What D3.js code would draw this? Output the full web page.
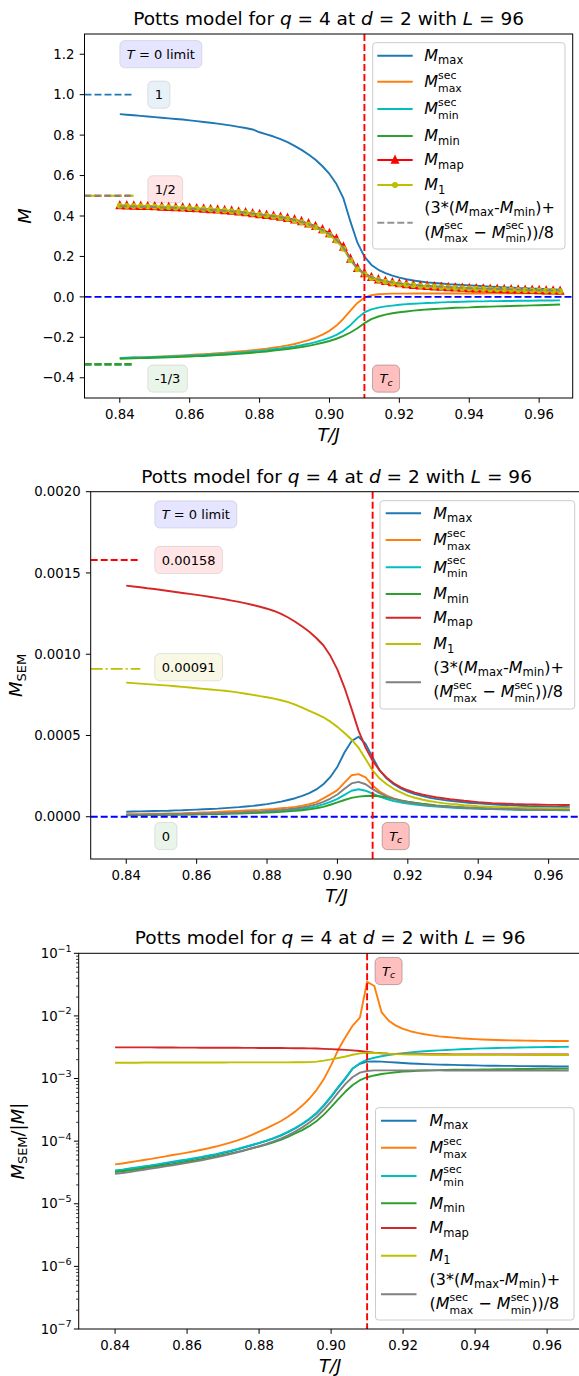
<!DOCTYPE html>
<html>
<head>
<meta charset="utf-8">
<script src="https://cdn.jsdelivr.net/npm/d3@7"></script>
<style>
  body { margin: 0; background: #fff; }
  svg text { font-family: 'DejaVu Sans', sans-serif; white-space: pre; fill: #000; }
</style>
</head>
<body>
<svg id="fig" width="579" height="1376"></svg>
<script>
/* Potts model q=4, d=2, L=96 — three stacked panels (M, M_SEM, M_SEM/|M|) */

// ---- temperatures (T/J) ----
const TEMPS = [
  0.840, 0.842, 0.844, 0.846, 0.848, 0.850, 0.852, 0.854, 0.856, 0.858,
  0.860, 0.862, 0.864, 0.866, 0.868, 0.870, 0.872, 0.874, 0.876, 0.878,
  0.880, 0.882, 0.884, 0.886, 0.888, 0.890, 0.892, 0.894, 0.896, 0.898,
  0.900, 0.902, 0.904, 0.906, 0.908, 0.910, 0.912, 0.914, 0.916, 0.918,
  0.920, 0.922, 0.924, 0.926, 0.928, 0.930, 0.932, 0.934, 0.936, 0.938,
  0.940, 0.942, 0.944, 0.946, 0.948, 0.950, 0.952, 0.954, 0.956, 0.958,
  0.960, 0.962, 0.964, 0.966];

// ---- panel 1: M ----
const M_MAX = [
  0.904, 0.901, 0.898, 0.895, 0.892, 0.889, 0.886, 0.883, 0.880, 0.877,
  0.873, 0.869, 0.865, 0.861, 0.857, 0.852, 0.847, 0.841, 0.835, 0.828,
  0.814, 0.804, 0.793, 0.780, 0.765, 0.747, 0.727, 0.704, 0.678, 0.646,
  0.608, 0.558, 0.487, 0.372, 0.268, 0.199, 0.158, 0.134, 0.118, 0.105,
  0.095, 0.087, 0.081, 0.076, 0.072, 0.069, 0.066, 0.063, 0.061, 0.059,
  0.057, 0.055, 0.053, 0.051, 0.049, 0.047, 0.046, 0.044, 0.043, 0.041,
  0.040, 0.038, 0.037, 0.036];
const M_SECMAX = [
  -0.303, -0.302, -0.300, -0.299, -0.298, -0.296, -0.295, -0.293, -0.291, -0.289,
  -0.287, -0.285, -0.283, -0.281, -0.278, -0.276, -0.273, -0.270, -0.267, -0.264,
  -0.260, -0.256, -0.251, -0.246, -0.240, -0.233, -0.224, -0.214, -0.202, -0.187,
  -0.168, -0.142, -0.108, -0.068, -0.030, -0.004, 0.008, 0.013, 0.015, 0.016,
  0.016, 0.016, 0.017, 0.017, 0.017, 0.017, 0.017, 0.017, 0.017, 0.017,
  0.017, 0.017, 0.017, 0.018, 0.018, 0.018, 0.018, 0.018, 0.018, 0.018,
  0.018, 0.018, 0.018, 0.018];
const M_SECMIN = [
  -0.302, -0.301, -0.300, -0.299, -0.298, -0.297, -0.296, -0.295, -0.293, -0.292,
  -0.290, -0.289, -0.287, -0.285, -0.283, -0.281, -0.279, -0.276, -0.273, -0.270,
  -0.267, -0.263, -0.259, -0.255, -0.250, -0.245, -0.239, -0.232, -0.224, -0.214,
  -0.203, -0.188, -0.168, -0.140, -0.105, -0.077, -0.062, -0.053, -0.047, -0.043,
  -0.039, -0.036, -0.034, -0.032, -0.030, -0.029, -0.027, -0.026, -0.025, -0.024,
  -0.023, -0.022, -0.022, -0.021, -0.021, -0.020, -0.020, -0.019, -0.019, -0.019,
  -0.018, -0.018, -0.018, -0.017];
const M_MIN = [
  -0.306, -0.305, -0.304, -0.303, -0.302, -0.301, -0.300, -0.299, -0.298, -0.296,
  -0.295, -0.293, -0.292, -0.290, -0.288, -0.286, -0.284, -0.282, -0.279, -0.276,
  -0.273, -0.270, -0.266, -0.262, -0.258, -0.253, -0.248, -0.242, -0.235, -0.227,
  -0.218, -0.207, -0.193, -0.176, -0.155, -0.130, -0.110, -0.097, -0.088, -0.081,
  -0.076, -0.072, -0.068, -0.065, -0.062, -0.060, -0.058, -0.056, -0.054, -0.053,
  -0.052, -0.050, -0.049, -0.048, -0.047, -0.046, -0.045, -0.044, -0.043, -0.042,
  -0.041, -0.040, -0.039, -0.038];
const M_MAP = [
  0.452, 0.451, 0.450, 0.449, 0.448, 0.447, 0.445, 0.444, 0.442, 0.441,
  0.439, 0.437, 0.435, 0.433, 0.431, 0.428, 0.425, 0.421, 0.417, 0.412,
  0.408, 0.404, 0.400, 0.395, 0.389, 0.382, 0.373, 0.362, 0.349, 0.333,
  0.314, 0.287, 0.247, 0.188, 0.142, 0.116, 0.097, 0.085, 0.077, 0.071,
  0.066, 0.062, 0.058, 0.055, 0.053, 0.051, 0.049, 0.047, 0.045, 0.044,
  0.042, 0.041, 0.040, 0.039, 0.038, 0.037, 0.036, 0.035, 0.034, 0.033,
  0.032, 0.031, 0.030, 0.029];
const M_ONE = [
  0.451, 0.450, 0.449, 0.448, 0.447, 0.446, 0.444, 0.443, 0.441, 0.440,
  0.438, 0.436, 0.434, 0.432, 0.429, 0.427, 0.424, 0.420, 0.416, 0.411,
  0.406, 0.402, 0.398, 0.392, 0.386, 0.378, 0.369, 0.358, 0.344, 0.327,
  0.306, 0.278, 0.238, 0.181, 0.137, 0.112, 0.094, 0.083, 0.075, 0.069,
  0.064, 0.060, 0.057, 0.054, 0.052, 0.050, 0.048, 0.046, 0.044, 0.043,
  0.041, 0.040, 0.039, 0.038, 0.037, 0.036, 0.035, 0.034, 0.033, 0.032,
  0.031, 0.030, 0.029, 0.028];
const M_COMB = [
  0.449, 0.448, 0.447, 0.446, 0.445, 0.444, 0.442, 0.441, 0.440, 0.438,
  0.436, 0.434, 0.432, 0.430, 0.428, 0.425, 0.423, 0.419, 0.416, 0.412,
  0.408, 0.403, 0.399, 0.394, 0.388, 0.380, 0.371, 0.360, 0.347, 0.331,
  0.311, 0.283, 0.243, 0.186, 0.140, 0.116, 0.097, 0.086, 0.078, 0.072,
  0.067, 0.063, 0.059, 0.056, 0.054, 0.052, 0.050, 0.048, 0.046, 0.045,
  0.043, 0.042, 0.041, 0.040, 0.039, 0.038, 0.037, 0.036, 0.035, 0.034,
  0.033, 0.032, 0.031, 0.031];

// ---- panel 2: M_SEM ----
const SEM_MAX = [
  31e-6, 32e-6, 33e-6, 34e-6, 35e-6, 36e-6, 37e-6, 39e-6, 40e-6, 42e-6,
  44e-6, 46e-6, 48e-6, 50e-6, 53e-6, 56e-6, 59e-6, 63e-6, 67e-6, 72e-6,
  78e-6, 85e-6, 93e-6, 103e-6, 114e-6, 128e-6, 145e-6, 168e-6, 200e-6, 245e-6,
  308e-6, 395e-6, 465e-6, 492e-6, 448e-6, 365e-6, 285e-6, 235e-6, 200e-6, 175e-6,
  155e-6, 140e-6, 128e-6, 118e-6, 110e-6, 104e-6, 98e-6, 93e-6, 89e-6, 85e-6,
  82e-6, 79e-6, 76e-6, 74e-6, 72e-6, 70e-6, 68e-6, 66e-6, 65e-6, 63e-6,
  62e-6, 61e-6, 60e-6, 59e-6];
const SEM_SECMAX = [
  15e-6, 15.5e-6, 16e-6, 17e-6, 18e-6, 19e-6, 20e-6, 21e-6, 22e-6, 24e-6,
  25e-6, 27e-6, 28e-6, 30e-6, 32e-6, 34e-6, 36e-6, 38e-6, 40e-6, 42e-6,
  45e-6, 48e-6, 52e-6, 56e-6, 61e-6, 68e-6, 77e-6, 90e-6, 113e-6, 138e-6,
  164e-6, 210e-6, 255e-6, 262e-6, 242e-6, 192e-6, 155e-6, 130e-6, 113e-6, 100e-6,
  90e-6, 83e-6, 77e-6, 72e-6, 68e-6, 65e-6, 62e-6, 59e-6, 57e-6, 55e-6,
  53e-6, 51e-6, 50e-6, 49e-6, 48e-6, 47e-6, 46e-6, 45e-6, 44e-6, 44e-6,
  43e-6, 43e-6, 42e-6, 42e-6];
const SEM_SECMIN = [
  10e-6, 10.5e-6, 11e-6, 11.5e-6, 12e-6, 12.5e-6, 13e-6, 14e-6, 14.5e-6, 15e-6,
  16e-6, 17e-6, 18e-6, 19e-6, 20e-6, 21.5e-6, 23e-6, 24.5e-6, 26e-6, 28e-6,
  30e-6, 33e-6, 36e-6, 39e-6, 43e-6, 48e-6, 55e-6, 64e-6, 76e-6, 92e-6,
  110e-6, 135e-6, 160e-6, 169e-6, 160e-6, 142e-6, 124e-6, 109e-6, 97e-6, 88e-6,
  81e-6, 75e-6, 70e-6, 66e-6, 62e-6, 59e-6, 56e-6, 54e-6, 52e-6, 50e-6,
  49e-6, 48e-6, 47e-6, 46e-6, 45e-6, 44e-6, 43e-6, 43e-6, 42e-6, 42e-6,
  41e-6, 41e-6, 40e-6, 40e-6];
const SEM_MIN = [
  9e-6, 9.5e-6, 10e-6, 10.5e-6, 11e-6, 11.5e-6, 12e-6, 12.5e-6, 13e-6, 14e-6,
  14.5e-6, 15e-6, 16e-6, 17e-6, 18e-6, 19e-6, 20e-6, 21.5e-6, 23e-6, 24.5e-6,
  26e-6, 28e-6, 30e-6, 33e-6, 36e-6, 40e-6, 45e-6, 52e-6, 61e-6, 74e-6,
  88e-6, 103e-6, 116e-6, 124e-6, 128e-6, 129e-6, 126e-6, 119e-6, 110e-6, 101e-6,
  93e-6, 86e-6, 80e-6, 75e-6, 70e-6, 66e-6, 63e-6, 60e-6, 57e-6, 55e-6,
  53e-6, 51e-6, 50e-6, 48e-6, 47e-6, 46e-6, 45e-6, 44e-6, 44e-6, 43e-6,
  42e-6, 42e-6, 41e-6, 41e-6];
const SEM_MAP = [
  1422e-6, 1417e-6, 1412e-6, 1406e-6, 1401e-6, 1395e-6, 1389e-6, 1383e-6, 1377e-6, 1371e-6,
  1365e-6, 1359e-6, 1352e-6, 1345e-6, 1338e-6, 1330e-6, 1322e-6, 1313e-6, 1303e-6, 1292e-6,
  1280e-6, 1266e-6, 1248e-6, 1226e-6, 1200e-6, 1170e-6, 1138e-6, 1100e-6, 1055e-6, 990e-6,
  905e-6, 795e-6, 665e-6, 530e-6, 425e-6, 345e-6, 285e-6, 240e-6, 206e-6, 181e-6,
  163e-6, 148e-6, 137e-6, 128e-6, 120e-6, 114e-6, 108e-6, 103e-6, 98e-6, 94e-6,
  90e-6, 87e-6, 84e-6, 82e-6, 80e-6, 78e-6, 77e-6, 76e-6, 75e-6, 74e-6,
  73e-6, 73e-6, 72e-6, 72e-6];
const SEM_ONE = [
  825e-6, 822e-6, 819e-6, 816e-6, 813e-6, 810e-6, 807e-6, 803e-6, 799e-6, 795e-6,
  791e-6, 787e-6, 783e-6, 779e-6, 775e-6, 770e-6, 764e-6, 757e-6, 750e-6, 742e-6,
  735e-6, 727e-6, 717e-6, 705e-6, 690e-6, 672e-6, 652e-6, 633e-6, 612e-6, 585e-6,
  553e-6, 515e-6, 475e-6, 425e-6, 355e-6, 285e-6, 235e-6, 200e-6, 172e-6, 150e-6,
  130e-6, 117e-6, 106e-6, 97e-6, 90e-6, 84e-6, 79e-6, 75e-6, 71e-6, 68e-6,
  65e-6, 63e-6, 61e-6, 59e-6, 58e-6, 57e-6, 56e-6, 55e-6, 54e-6, 53e-6,
  53e-6, 52e-6, 52e-6, 51e-6];
const SEM_COMB = [
  12e-6, 12.5e-6, 13e-6, 13.5e-6, 14e-6, 15e-6, 15.5e-6, 16e-6, 17e-6, 18e-6,
  19e-6, 20e-6, 21e-6, 22e-6, 24e-6, 25e-6, 27e-6, 29e-6, 31e-6, 33e-6,
  36e-6, 39e-6, 42e-6, 46e-6, 51e-6, 57e-6, 65e-6, 76e-6, 92e-6, 112e-6,
  137e-6, 172e-6, 205e-6, 215e-6, 200e-6, 170e-6, 145e-6, 125e-6, 110e-6, 98e-6,
  89e-6, 82e-6, 76e-6, 71e-6, 67e-6, 64e-6, 61e-6, 58e-6, 56e-6, 54e-6,
  52e-6, 51e-6, 49e-6, 48e-6, 47e-6, 46e-6, 45e-6, 44e-6, 44e-6, 43e-6,
  42e-6, 42e-6, 41e-6, 41e-6];

// ---- panel 3: M_SEM / |M| ----
const REL_MAX = [
  3.33e-5, 3.45e-5, 3.6e-5, 3.75e-5, 3.9e-5, 4.05e-5, 4.2e-5, 4.4e-5, 4.6e-5, 4.8e-5,
  5.0e-5, 5.25e-5, 5.5e-5, 5.8e-5, 6.1e-5, 6.5e-5, 6.9e-5, 7.4e-5, 8.0e-5, 8.6e-5,
  9.3e-5, 1.01e-4, 1.11e-4, 1.23e-4, 1.39e-4, 1.6e-4, 1.88e-4, 2.25e-4, 2.8e-4, 3.7e-4,
  5.1e-4, 7.2e-4, 1.0e-3, 1.45e-3, 1.72e-3, 1.86e-3, 1.88e-3, 1.86e-3, 1.83e-3, 1.80e-3,
  1.77e-3, 1.74e-3, 1.72e-3, 1.70e-3, 1.68e-3, 1.67e-3, 1.66e-3, 1.65e-3, 1.64e-3, 1.63e-3,
  1.62e-3, 1.61e-3, 1.60e-3, 1.60e-3, 1.59e-3, 1.59e-3, 1.58e-3, 1.58e-3, 1.57e-3, 1.57e-3,
  1.57e-3, 1.56e-3, 1.56e-3, 1.56e-3];
const REL_SECMAX = [
  4.26e-5, 4.4e-5, 4.6e-5, 4.8e-5, 5.0e-5, 5.2e-5, 5.45e-5, 5.7e-5, 6.0e-5, 6.25e-5,
  6.55e-5, 6.9e-5, 7.3e-5, 7.7e-5, 8.2e-5, 8.8e-5, 9.5e-5, 1.03e-4, 1.13e-4, 1.26e-4,
  1.42e-4, 1.6e-4, 1.82e-4, 2.08e-4, 2.45e-4, 2.96e-4, 3.7e-4, 4.8e-4, 6.6e-4, 9.8e-4,
  1.64e-3, 2.9e-3, 4.6e-3, 7.0e-3, 9.4e-3, 3.52e-2, 3.0e-2, 1.15e-2, 8.4e-3, 7.0e-3,
  6.2e-3, 5.7e-3, 5.35e-3, 5.1e-3, 4.9e-3, 4.72e-3, 4.6e-3, 4.5e-3, 4.4e-3, 4.33e-3,
  4.26e-3, 4.2e-3, 4.16e-3, 4.12e-3, 4.09e-3, 4.07e-3, 4.05e-3, 4.03e-3, 4.02e-3, 4.0e-3,
  3.99e-3, 3.98e-3, 3.98e-3, 3.97e-3];
const REL_SECMIN = [
  3.4e-5, 3.5e-5, 3.65e-5, 3.8e-5, 3.95e-5, 4.1e-5, 4.3e-5, 4.5e-5, 4.7e-5, 4.9e-5,
  5.1e-5, 5.35e-5, 5.6e-5, 5.9e-5, 6.2e-5, 6.6e-5, 7.0e-5, 7.5e-5, 8.1e-5, 8.7e-5,
  9.4e-5, 1.02e-4, 1.12e-4, 1.25e-4, 1.41e-4, 1.62e-4, 1.9e-4, 2.28e-4, 2.85e-4, 3.75e-4,
  5.2e-4, 7.4e-4, 1.03e-3, 1.45e-3, 1.76e-3, 2.0e-3, 2.15e-3, 2.27e-3, 2.37e-3, 2.46e-3,
  2.55e-3, 2.62e-3, 2.68e-3, 2.73e-3, 2.78e-3, 2.82e-3, 2.86e-3, 2.90e-3, 2.94e-3, 2.97e-3,
  3.0e-3, 3.03e-3, 3.05e-3, 3.07e-3, 3.09e-3, 3.11e-3, 3.13e-3, 3.14e-3, 3.16e-3, 3.17e-3,
  3.18e-3, 3.19e-3, 3.2e-3, 3.21e-3];
const REL_MIN = [
  3.2e-5, 3.3e-5, 3.4e-5, 3.55e-5, 3.7e-5, 3.85e-5, 4.0e-5, 4.15e-5, 4.3e-5, 4.5e-5,
  4.7e-5, 4.9e-5, 5.15e-5, 5.4e-5, 5.7e-5, 6.0e-5, 6.35e-5, 6.75e-5, 7.2e-5, 7.7e-5,
  8.2e-5, 8.8e-5, 9.6e-5, 1.05e-4, 1.17e-4, 1.33e-4, 1.5e-4, 1.75e-4, 2.1e-4, 2.65e-4,
  3.5e-4, 4.7e-4, 6.2e-4, 7.9e-4, 9.4e-4, 1.05e-3, 1.12e-3, 1.18e-3, 1.22e-3, 1.26e-3,
  1.29e-3, 1.31e-3, 1.33e-3, 1.34e-3, 1.35e-3, 1.36e-3, 1.37e-3, 1.38e-3, 1.38e-3, 1.39e-3,
  1.39e-3, 1.40e-3, 1.40e-3, 1.41e-3, 1.41e-3, 1.41e-3, 1.42e-3, 1.42e-3, 1.42e-3, 1.43e-3,
  1.43e-3, 1.43e-3, 1.44e-3, 1.44e-3];
const REL_MAP = [
  3.15e-3, 3.15e-3, 3.15e-3, 3.14e-3, 3.14e-3, 3.14e-3, 3.13e-3, 3.13e-3, 3.13e-3, 3.12e-3,
  3.12e-3, 3.12e-3, 3.11e-3, 3.11e-3, 3.11e-3, 3.10e-3, 3.10e-3, 3.10e-3, 3.09e-3, 3.09e-3,
  3.08e-3, 3.08e-3, 3.07e-3, 3.07e-3, 3.06e-3, 3.05e-3, 3.04e-3, 3.03e-3, 3.01e-3, 2.98e-3,
  2.95e-3, 2.91e-3, 2.87e-3, 2.82e-3, 2.75e-3, 2.67e-3, 2.59e-3, 2.53e-3, 2.49e-3, 2.47e-3,
  2.46e-3, 2.45e-3, 2.45e-3, 2.44e-3, 2.44e-3, 2.44e-3, 2.44e-3, 2.43e-3, 2.43e-3, 2.43e-3,
  2.43e-3, 2.43e-3, 2.43e-3, 2.43e-3, 2.43e-3, 2.43e-3, 2.42e-3, 2.42e-3, 2.42e-3, 2.42e-3,
  2.42e-3, 2.42e-3, 2.42e-3, 2.42e-3];
const REL_ONE = [
  1.79e-3, 1.79e-3, 1.79e-3, 1.79e-3, 1.80e-3, 1.80e-3, 1.80e-3, 1.80e-3, 1.80e-3, 1.80e-3,
  1.80e-3, 1.80e-3, 1.80e-3, 1.80e-3, 1.80e-3, 1.80e-3, 1.81e-3, 1.81e-3, 1.81e-3, 1.81e-3,
  1.81e-3, 1.81e-3, 1.81e-3, 1.81e-3, 1.81e-3, 1.82e-3, 1.82e-3, 1.83e-3, 1.86e-3, 1.93e-3,
  2.02e-3, 2.13e-3, 2.25e-3, 2.40e-3, 2.52e-3, 2.58e-3, 2.56e-3, 2.52e-3, 2.48e-3, 2.45e-3,
  2.43e-3, 2.42e-3, 2.41e-3, 2.41e-3, 2.40e-3, 2.40e-3, 2.40e-3, 2.40e-3, 2.40e-3, 2.40e-3,
  2.39e-3, 2.39e-3, 2.39e-3, 2.39e-3, 2.39e-3, 2.39e-3, 2.39e-3, 2.39e-3, 2.39e-3, 2.38e-3,
  2.38e-3, 2.38e-3, 2.38e-3, 2.38e-3];
const REL_COMB = [
  3.0e-5, 3.1e-5, 3.2e-5, 3.35e-5, 3.5e-5, 3.65e-5, 3.8e-5, 3.95e-5, 4.1e-5, 4.3e-5,
  4.5e-5, 4.7e-5, 4.95e-5, 5.2e-5, 5.5e-5, 5.85e-5, 6.2e-5, 6.65e-5, 7.1e-5, 7.7e-5,
  8.3e-5, 9.0e-5, 9.9e-5, 1.1e-4, 1.24e-4, 1.42e-4, 1.66e-4, 1.98e-4, 2.45e-4, 3.2e-4,
  4.3e-4, 6.0e-4, 8.2e-4, 1.06e-3, 1.24e-3, 1.32e-3, 1.35e-3, 1.35e-3, 1.35e-3, 1.35e-3,
  1.35e-3, 1.35e-3, 1.35e-3, 1.35e-3, 1.35e-3, 1.35e-3, 1.34e-3, 1.34e-3, 1.34e-3, 1.34e-3,
  1.34e-3, 1.34e-3, 1.34e-3, 1.34e-3, 1.34e-3, 1.34e-3, 1.34e-3, 1.34e-3, 1.34e-3, 1.34e-3,
  1.34e-3, 1.34e-3, 1.34e-3, 1.34e-3];

// ---- reference values and ticks ----
const TC = 0.91;
const T0_LIMITS_M = [1.0, 0.5, -1 / 3];
const T0_LIMITS_SEM = [0.00158, 0.00091];
const X_DOMAIN = [0.8299, 0.9696];
const T0_STUB = [0.8299, 0.844];
const X_TICKS = [0.84, 0.86, 0.88, 0.90, 0.92, 0.94, 0.96];
const Y_TICKS_M = [-0.4, -0.2, 0, 0.2, 0.4, 0.6, 0.8, 1.0, 1.2];
const Y_TICKS_SEM = [0, 0.0005, 0.001, 0.0015, 0.002];
const Y_TICKS_REL = [1e-7, 1e-6, 1e-5, 1e-4, 1e-3, 1e-2, 1e-1];

const C = {
  blue: '#1f77b4', orange: '#ff7f0e', cyan: '#00bfbf', green: '#2ca02c',
  red: '#d62728', pure: '#ff0000', olive: '#bfbf00', gray: '#808080', b: '#0000ff'
};
const LW = 1.9, DASH = '7,3', DASHDOT = '12,3,2,3';
const FS_TICK = 13.3, FS_NOTE = 13, FS_LEG = 16, FS_TITLE = 18.5, FS_LABEL = 18;

// rich-text labels (mathtext-like)
const Mi = { t: 'M', it: true };
const L_MAX = [Mi, { sub: 'max' }];
const L_SECMAX = [Mi, { sup: 'sec', sub: 'max' }];
const L_SECMIN = [Mi, { sup: 'sec', sub: 'min' }];
const L_MIN = [Mi, { sub: 'min' }];
const L_MAP = [Mi, { sub: 'map' }];
const L_ONE = [Mi, { sub: '1' }];
const L_COMB = [
  [{ t: '(3*(' }, Mi, { sub: 'max' }, { t: '-' }, Mi, { sub: 'min' }, { t: ')+' }],
  [{ t: '(' }, Mi, { sup: 'sec', sub: 'max' }, { t: ' − ' }, Mi, { sup: 'sec', sub: 'min' }, { t: '))/8' }]
];
const TITLE = [{ t: 'Potts model for ' }, { t: 'q', it: true }, { t: ' = 4 at ' }, { t: 'd', it: true },
  { t: ' = 2 with ' }, { t: 'L', it: true }, { t: ' = 96' }];
const T0_TXT = [{ t: 'T', it: true }, { t: ' = 0 limit' }];
const TC_TXT = [{ t: 'T', it: true }, { sub: 'c', it: true }];

const svg = d3.select('#fig');

function rich(parent, x, y, parts, fs, anchor = 'start', rotate = 0) {
  const outer = parent.append('g')
    .attr('transform', `translate(${x},${y})` + (rotate ? ` rotate(${rotate})` : ''));
  const g = outer.append('g');
  let cx = 0;
  const put = (txt, px, py, size, it) => {
    const el = g.append('text').attr('x', px).attr('y', py)
      .style('font-size', size + 'px')
      .style('font-style', it ? 'italic' : 'normal')
      .text(txt);
    return el.node().getComputedTextLength();
  };
  parts.forEach(p => {
    if (p.t !== undefined) { cx += put(p.t, cx, 0, fs, p.it); return; }
    const stacked = p.sup !== undefined && p.sub !== undefined;
    const s = fs * (stacked ? 0.68 : 0.72);
    let w = 0;
    if (p.sup !== undefined) w = Math.max(w, put(p.sup, cx, -fs * (stacked ? 0.52 : 0.47), s, p.it));
    if (p.sub !== undefined) w = Math.max(w, put(p.sub, cx, fs * (stacked ? 0.29 : 0.2), s, p.it));
    cx += w;
  });
  const shift = anchor === 'middle' ? -cx / 2 : anchor === 'end' ? -cx : 0;
  g.attr('transform', `translate(${shift},0)`);
  return cx;
}

function marker(sel, s) {
  if (s.marker === 'tri') {
    sel.append('path').attr('d', 'M0,-5.6L4.5,3.8L-4.5,3.8Z').attr('fill', s.color);
  } else if (s.marker === 'dot') {
    sel.append('circle').attr('r', 3).attr('fill', s.color);
  }
}

function drawPanel(p) {
  const x = d3.scaleLinear().domain(X_DOMAIN).range([p.left, p.right]);
  const y = (p.log ? d3.scaleLog() : d3.scaleLinear()).domain(p.yDomain).range([p.bottom, p.top]);
  const clipId = 'clip-' + p.key;
  svg.append('clipPath').attr('id', clipId).append('rect')
    .attr('x', p.left).attr('y', p.top)
    .attr('width', p.right - p.left).attr('height', p.bottom - p.top);
  const plot = svg.append('g').attr('clip-path', `url(#${clipId})`);
  const line = d3.line().x(d => x(d[0])).y(d => y(d[1]));

  // data series
  p.series.forEach(s => {
    const pts = TEMPS.map((t, i) => [t, s.values[i]]);
    plot.append('path').datum(pts).attr('d', line)
      .attr('fill', 'none').attr('stroke', s.color).attr('stroke-width', s.width || LW)
      .attr('stroke-dasharray', s.dash || null)
      .attr('stroke-opacity', s.opacity || 1)
      .attr('stroke-linejoin', 'round');
    if (s.marker) {
      pts.forEach(d => marker(plot.append('g').attr('transform', `translate(${x(d[0])},${y(d[1])})`), s));
    }
  });

  // T = 0 limit stubs
  p.stubs.forEach(s => {
    plot.append('line')
      .attr('x1', x(T0_STUB[0])).attr('x2', x(T0_STUB[1]))
      .attr('y1', y(s.v)).attr('y2', y(s.v))
      .attr('stroke', s.color).attr('stroke-width', s.width || LW)
      .attr('stroke-dasharray', s.dash);
  });

  // zero line and T_c
  if (!p.log) {
    plot.append('line').attr('x1', p.left).attr('x2', p.right)
      .attr('y1', y(0)).attr('y2', y(0))
      .attr('stroke', C.b).attr('stroke-width', LW).attr('stroke-dasharray', DASH);
  }
  plot.append('line').attr('x1', x(TC)).attr('x2', x(TC))
    .attr('y1', p.top).attr('y2', p.bottom)
    .attr('stroke', C.pure).attr('stroke-width', LW).attr('stroke-dasharray', DASH);

  // annotation boxes
  p.notes.forEach(n => {
    const bx = x(n.x), cy = y(n.y);
    const g = plot.append('g');
    const rect = g.append('rect');
    const w = rich(g, bx + 7, cy + 4.7, n.parts, FS_NOTE);
    rect.attr('x', bx).attr('y', cy - 13.6).attr('width', w + 14).attr('height', 27.2)
      .attr('rx', 5).attr('fill', n.fill).attr('fill-opacity', n.alpha)
      .attr('stroke', '#000').attr('stroke-opacity', n.alpha).attr('stroke-width', 1);
  });

  // spines
  const ax = svg.append('g').attr('stroke', '#000').attr('stroke-width', 1).attr('fill', 'none');
  ax.append('rect').attr('x', p.left).attr('y', p.top)
    .attr('width', p.right - p.left).attr('height', p.bottom - p.top);

  // x ticks
  X_TICKS.forEach(t => {
    ax.append('line').attr('x1', x(t)).attr('x2', x(t)).attr('y1', p.bottom).attr('y2', p.bottom + 4.8);
    svg.append('text').attr('x', x(t)).attr('y', p.bottom + 20.5)
      .attr('text-anchor', 'middle').style('font-size', FS_TICK + 'px')
      .text(d3.format('.2f')(t));
  });

  // y ticks
  p.yTicks.forEach(t => {
    ax.append('line').attr('x1', p.left - 4.8).attr('x2', p.left).attr('y1', y(t)).attr('y2', y(t));
    if (p.log) {
      rich(svg, p.left - 7, y(t) + 4.7,
        [{ t: '10' }, { sup: '−' + Math.round(-Math.log10(t)) }], FS_TICK, 'end');
    } else {
      svg.append('text').attr('x', p.left - 10).attr('y', y(t) + 4.7)
        .attr('text-anchor', 'end').style('font-size', FS_TICK + 'px')
        .text(p.yFmt(t));
    }
  });
  if (p.log) {
    for (let k = -7; k < -1; k++) {
      for (let m = 2; m <= 9; m++) {
        const v = m * Math.pow(10, k);
        ax.append('line').attr('x1', p.left - 2.6).attr('x2', p.left)
          .attr('y1', y(v)).attr('y2', y(v)).attr('stroke-width', 0.8);
      }
    }
  }

  // titles and labels
  const cx = (p.left + p.right) / 2;
  rich(svg, cx, p.titleY, TITLE, FS_TITLE, 'middle');
  rich(svg, cx, p.bottom + 43, [{ t: 'T/J', it: true }], FS_LABEL, 'middle');
  rich(svg, p.ylabelX, (p.top + p.bottom) / 2, p.ylabel, FS_LABEL, 'middle', -90);

  // legend
  const L = p.legend;
  svg.append('rect').attr('x', L.x).attr('y', L.y).attr('width', L.w).attr('height', L.h)
    .attr('rx', 3).attr('fill', '#fff').attr('fill-opacity', 0.8)
    .attr('stroke', '#cccccc').attr('stroke-width', 1);
  p.series.forEach((s, i) => {
    const cy = L.rows[i];
    svg.append('line').attr('x1', L.hx[0]).attr('x2', L.hx[1]).attr('y1', cy).attr('y2', cy)
      .attr('stroke', s.color).attr('stroke-width', s.width || LW)
      .attr('stroke-dasharray', s.dash || null).attr('stroke-opacity', s.opacity || 1);
    if (s.marker) marker(svg.append('g').attr('transform', `translate(${(L.hx[0] + L.hx[1]) / 2},${cy})`), s);
    if (Array.isArray(s.label[0])) {
      rich(svg, L.tx, cy - 9.5, s.label[0], FS_LEG);
      rich(svg, L.tx, cy + 15, s.label[1], FS_LEG);
    } else {
      rich(svg, L.tx, cy + 5.3, s.label, FS_LEG);
    }
  });
}

const panels = [
  {
    key: 'm', left: 84.5, right: 572.7, top: 34, bottom: 398, log: false,
    yDomain: [-0.5, 1.3], yTicks: Y_TICKS_M, yFmt: d3.format('.1f'),
    titleY: 24.5, ylabelX: 31.4, ylabel: [Mi],
    series: [
      { values: M_MAX, color: C.blue, label: L_MAX },
      { values: M_SECMAX, color: C.orange, label: L_SECMAX },
      { values: M_SECMIN, color: C.cyan, label: L_SECMIN },
      { values: M_MIN, color: C.green, label: L_MIN },
      { values: M_MAP, color: C.pure, marker: 'tri', label: L_MAP },
      { values: M_ONE, color: C.olive, marker: 'dot', label: L_ONE },
      { values: M_COMB, color: C.gray, dash: DASH, opacity: 0.85, label: L_COMB }
    ],
    stubs: [
      { v: T0_LIMITS_M[0], color: C.blue, dash: DASH },
      { v: T0_LIMITS_M[1], color: C.pure, dash: DASH },
      { v: T0_LIMITS_M[1], color: C.olive, dash: DASHDOT },
      { v: T0_LIMITS_M[1], color: C.gray, dash: '6,4' },
      { v: T0_LIMITS_M[2], color: C.orange, dash: DASH, width: 2.6 },
      { v: T0_LIMITS_M[2], color: C.cyan, dash: DASH, width: 2.6 },
      { v: T0_LIMITS_M[2], color: C.green, dash: DASH, width: 2.6 }
    ],
    notes: [
      { x: 0.840, y: 1.2, parts: T0_TXT, fill: C.b, alpha: 0.1 },
      { x: 0.848, y: 1.0, parts: [{ t: '1' }], fill: C.blue, alpha: 0.1 },
      { x: 0.848, y: 0.532, parts: [{ t: '1/2' }], fill: C.pure, alpha: 0.1 },
      { x: 0.848, y: -0.404, parts: [{ t: '-1/3' }], fill: C.green, alpha: 0.1 },
      { x: 0.9123, y: -0.404, parts: TC_TXT, fill: C.pure, alpha: 0.25 }
    ],
    legend: { x: 372.7, y: 42.7, w: 192.3, h: 206.3, hx: [377.3, 412.7], tx: 424.3,
      rows: [55.7, 81.7, 109, 136, 160, 185, 222.7] }
  },
  {
    key: 'sem', left: 90.7, right: 582.4, top: 491.7, bottom: 859, log: false,
    yDomain: [-0.00026, 0.002], yTicks: Y_TICKS_SEM, yFmt: d3.format('.4f'),
    titleY: 482.7, ylabelX: 22.3, ylabel: [Mi, { sub: 'SEM' }],
    series: [
      { values: SEM_MAX, color: C.blue, label: L_MAX },
      { values: SEM_SECMAX, color: C.orange, label: L_SECMAX },
      { values: SEM_SECMIN, color: C.cyan, label: L_SECMIN },
      { values: SEM_MIN, color: C.green, label: L_MIN },
      { values: SEM_MAP, color: C.red, label: L_MAP },
      { values: SEM_ONE, color: C.olive, label: L_ONE },
      { values: SEM_COMB, color: C.gray, label: L_COMB }
    ],
    stubs: [
      { v: T0_LIMITS_SEM[0], color: C.pure, dash: DASH },
      { v: T0_LIMITS_SEM[1], color: C.olive, dash: DASHDOT }
    ],
    notes: [
      { x: 0.8481, y: 0.00186, parts: T0_TXT, fill: C.b, alpha: 0.1 },
      { x: 0.8481, y: 0.00158, parts: [{ t: '0.00158' }], fill: C.pure, alpha: 0.1 },
      { x: 0.8481, y: 0.00092, parts: [{ t: '0.00091' }], fill: C.olive, alpha: 0.1 },
      { x: 0.8481, y: -0.000119, parts: [{ t: '0' }], fill: C.green, alpha: 0.1 },
      { x: 0.9127, y: -0.000119, parts: TC_TXT, fill: C.pure, alpha: 0.25 }
    ],
    legend: { x: 380, y: 500.7, w: 194.7, h: 208.3, hx: [385.7, 421], tx: 433.3,
      rows: [513.3, 540, 567.3, 594, 617.7, 644, 682.3] }
  },
  {
    key: 'rel', left: 78.7, right: 581.7, top: 953.3, bottom: 1329, log: true,
    yDomain: [1e-7, 1e-1], yTicks: Y_TICKS_REL,
    titleY: 944, ylabelX: 23.5,
    ylabel: [Mi, { sub: 'SEM' }, { t: '/|' }, Mi, { t: '|' }],
    series: [
      { values: REL_MAX, color: C.blue, label: L_MAX },
      { values: REL_SECMAX, color: C.orange, label: L_SECMAX },
      { values: REL_SECMIN, color: C.cyan, label: L_SECMIN },
      { values: REL_MIN, color: C.green, label: L_MIN },
      { values: REL_MAP, color: C.red, label: L_MAP },
      { values: REL_ONE, color: C.olive, label: L_ONE },
      { values: REL_COMB, color: C.gray, label: L_COMB }
    ],
    stubs: [],
    notes: [
      { x: 0.9122, y: 0.0521, parts: TC_TXT, fill: C.pure, alpha: 0.25 }
    ],
    legend: { x: 375.5, y: 1107.7, w: 198.5, h: 212.3, hx: [381, 416.5], tx: 429.5,
      rows: [1120.7, 1147.7, 1176, 1203.3, 1228, 1255.7, 1294.3] }
  }
];

panels.forEach(drawPanel);
</script>
</body>
</html>
